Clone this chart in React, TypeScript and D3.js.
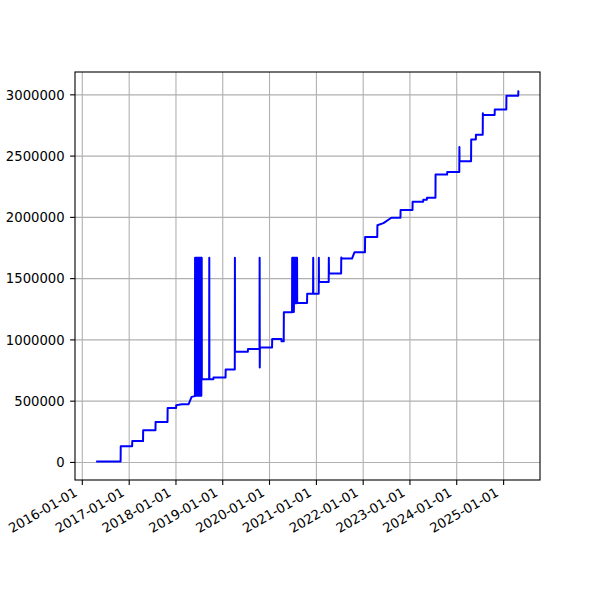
import React from "react";
import * as d3 from "d3";

const dates: string[] = [
  "2016-04-18","2016-10-26","2016-10-27","2017-01-24","2017-01-25","2017-04-19","2017-04-20",
  "2017-07-25","2017-07-26","2017-10-27","2017-10-28","2018-01-02","2018-01-03","2018-01-23",
  "2018-02-16","2018-04-10","2018-05-03","2018-05-29",
  "2018-05-30","2018-05-31","2018-06-05","2018-06-06","2018-06-11","2018-06-12","2018-06-17","2018-06-18",
  "2018-06-23","2018-06-24","2018-06-29","2018-06-30","2018-07-05","2018-07-06","2018-07-11","2018-07-12",
  "2018-07-17","2018-07-18","2018-07-21","2018-07-22",
  "2018-09-17","2018-09-18","2018-09-19","2018-10-20","2018-10-21","2019-01-23","2019-01-24",
  "2019-04-05","2019-04-06","2019-04-07","2019-07-16","2019-07-17","2019-10-15","2019-10-16",
  "2019-10-17","2019-10-18","2020-01-21","2020-01-22","2020-04-03","2020-04-04","2020-04-21",
  "2020-04-22","2020-06-25",
  "2020-06-26","2020-06-27","2020-07-02","2020-07-03","2020-07-08","2020-07-09","2020-07-14","2020-07-15",
  "2020-07-22","2020-07-23","2020-07-28","2020-07-29","2020-08-03","2020-08-04",
  "2020-10-20","2020-10-21","2020-12-06","2020-12-07","2020-12-08","2021-01-19","2021-01-20",
  "2021-01-21","2021-04-07","2021-04-08","2021-04-09","2021-07-13","2021-07-14","2021-07-15",
  "2021-10-06","2021-10-25","2022-01-15","2022-01-16","2022-04-21","2022-04-22","2022-06-08",
  "2022-08-09","2022-10-19","2022-10-20","2023-01-21","2023-01-22","2023-04-14","2023-04-15",
  "2023-05-13","2023-05-14","2023-07-19","2023-07-20","2023-10-18","2023-10-19","2024-01-21",
  "2024-01-22","2024-01-23","2024-04-22","2024-04-23","2024-05-29","2024-05-30","2024-07-22",
  "2024-07-23","2024-07-24","2024-10-23","2024-10-24","2025-01-22","2025-01-23","2025-04-25",
  "2025-04-26","2025-04-30",
];

const values: number[] = [
  8000,8000,133000,133000,174000,174000,263000,
  263000,331000,331000,445000,445000,467000,470000,
  475000,475000,535000,541000,
  1670000,545000,1670000,545000,1670000,545000,1670000,545000,
  1670000,545000,1670000,545000,1670000,545000,1670000,545000,
  1670000,545000,1670000,679000,
  679000,1670000,679000,679000,693000,693000,758000,
  758000,1670000,903000,903000,926000,926000,1670000,
  774000,938000,938000,1008000,1008000,988000,988000,
  1226000,1226000,
  1670000,1228000,1670000,1228000,1670000,1228000,1670000,1300000,
  1670000,1300000,1670000,1300000,1670000,1301000,
  1301000,1376000,1376000,1670000,1376000,1376000,1670000,
  1472000,1472000,1670000,1541000,1541000,1673000,1664000,
  1664000,1715000,1715000,1840000,1840000,1936000,1953000,
  1997000,1997000,2060000,2060000,2127000,2127000,2144000,
  2144000,2160000,2160000,2349000,2349000,2370000,2370000,
  2575000,2458000,2458000,2636000,2636000,2675000,2675000,
  2850000,2836000,2836000,2881000,2881000,2993000,2993000,
  3030000,3035000,
];

const xTickLabels: string[] = [
  "2016-01-01","2017-01-01","2018-01-01","2019-01-01","2020-01-01",
  "2021-01-01","2022-01-01","2023-01-01","2024-01-01","2025-01-01",
];
const yTicks: number[] = [0, 500000, 1000000, 1500000, 2000000, 2500000, 3000000];

const W = 600, H = 600;
const L = 75, R = 540, T = 72, B = 480;
const FONT = "DejaVu Sans, sans-serif";
const FS = 13.2;

export default function App() {
  const parse = d3.utcParse("%Y-%m-%d");
  const data = dates.map((d, i) => ({ t: parse(d) as Date, v: values[i] }));
  const [t0, t1] = d3.extent(data, (d) => d.t.getTime()) as [number, number];
  const [v0, v1] = d3.extent(data, (d) => d.v) as [number, number];
  const px = (t1 - t0) * 0.05;
  const pv = (v1 - v0) * 0.05;
  const x = d3.scaleUtc().domain([new Date(t0 - px), new Date(t1 + px)]).range([L, R]);
  const y = d3.scaleLinear().domain([v0 - pv, v1 + pv]).range([B, T]);
  const line = d3
    .line<{ t: Date; v: number }>()
    .x((d) => x(d.t))
    .y((d) => y(d.v));
  const xTicks = xTickLabels.map((s) => ({ s, d: parse(s) as Date }));
  const tickLen = 4.9;

  return (
    <svg
      width={W}
      height={H}
      style={{ position: "absolute", left: 0, top: 0, background: "#fff" }}
      fontFamily={FONT}
    >
      <rect x={0} y={0} width={W} height={H} fill="#fff" />
      <g>
        {xTicks.map((tk) => (
          <line key={"gx" + tk.s} x1={x(tk.d)} x2={x(tk.d)} y1={T} y2={B} stroke="#b0b0b0" strokeWidth={1.1} />
        ))}
        {yTicks.map((v) => (
          <line key={"gy" + v} x1={L} x2={R} y1={y(v)} y2={y(v)} stroke="#b0b0b0" strokeWidth={1.1} />
        ))}
      </g>
      <clipPath id="clip">
        <rect x={L} y={T} width={R - L} height={B - T} />
      </clipPath>
      <path d={line(data) || ""} fill="none" stroke="#0000ff" strokeWidth={2} strokeLinejoin="round" clipPath="url(#clip)" />
      <rect x={L} y={T} width={R - L} height={B - T} fill="none" stroke="#000" strokeWidth={1.1} />
      {xTicks.map((tk) => (
        <g key={"tx" + tk.s}>
          <line x1={x(tk.d)} x2={x(tk.d)} y1={B} y2={B + tickLen} stroke="#000" strokeWidth={1.1} />
          <text
            transform={`translate(${x(tk.d) - 4},${B + 15}) rotate(-30)`}
            textAnchor="end"
            fontSize={FS}
            fill="#000"
          >
            {tk.s}
          </text>
        </g>
      ))}
      {yTicks.map((v) => (
        <g key={"ty" + v}>
          <line x1={L - tickLen} x2={L} y1={y(v)} y2={y(v)} stroke="#000" strokeWidth={1.1} />
          <text x={L - tickLen - 5.5} y={y(v)} dy="0.36em" textAnchor="end" fontSize={FS} fill="#000">
            {String(v)}
          </text>
        </g>
      ))}
    </svg>
  );
}
